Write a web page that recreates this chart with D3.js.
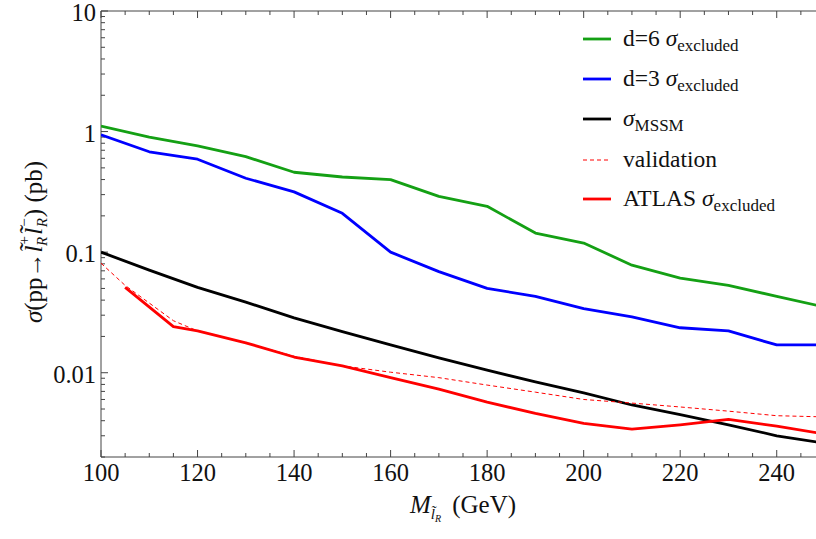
<!DOCTYPE html>
<html><head><meta charset="utf-8">
<script src="https://d3js.org/d3.v7.min.js"></script>
<style>body{margin:0;background:#fff}svg{display:block}text{font-family:"Liberation Serif","Times New Roman",serif;fill:#111}</style>
</head><body>
<svg id="c" width="816" height="539"></svg>
<script>
const masses = [100,110,120,130,140,150,160,170,180,190,200,210,220,230,240,250];
const d6 = [1.11,0.90,0.76,0.62,0.46,0.42,0.40,0.29,0.24,0.144,0.119,0.078,0.061,0.053,0.043,0.035];
const d3v = [0.94,0.68,0.59,0.41,0.316,0.21,0.10,0.069,0.050,0.043,0.034,0.029,0.0236,0.0222,0.017,0.017];
const mssm = [0.100,0.071,0.051,0.0385,0.0285,0.0219,0.0170,0.0133,0.0105,0.0084,0.0068,0.0054,0.0045,0.0037,0.0030,0.0026];
const validationM = [100,105,115,120,130,140,150,160,170,180,190,200,210,220,230,240,250];
const validation = [0.081,0.053,0.027,0.0222,0.0177,0.0137,0.0114,0.0101,0.0091,0.0079,0.0069,0.0060,0.0056,0.0052,0.0048,0.0044,0.0043];
const atlasM = [105,115,120,130,140,150,160,170,180,190,200,210,220,230,240,250];
const atlas = [0.051,0.0241,0.0222,0.0177,0.0135,0.0114,0.0091,0.0073,0.0057,0.0046,0.0038,0.0034,0.0037,0.0041,0.0036,0.0031];
const xMajor = [100,120,140,160,180,200,220,240];
const yMajor = [0.01,0.1,1,10];
const yMajorLabels = ["0.01","0.1","1","10"];

const svg = d3.select("#c");
const L = 101, T = 11, B = 457, R = 825;
const x = d3.scaleLinear().domain([100,250]).range([L,R]);
const y = d3.scaleLog().domain([0.002,10]).range([B,T]);

const ax = svg.append("g").attr("stroke","#444").attr("stroke-width",1);
ax.append("line").attr("x1",L).attr("x2",R).attr("y1",B).attr("y2",B);
ax.append("line").attr("x1",L).attr("x2",R).attr("y1",T).attr("y2",T);
ax.append("line").attr("x1",L).attr("x2",L).attr("y1",T).attr("y2",B);

// x ticks
const xMinor = d3.range(100,251,5);
xMinor.forEach(v=>{
  const maj = xMajor.includes(v);
  const len = maj?7:4;
  ax.append("line").attr("x1",x(v)).attr("x2",x(v)).attr("y1",B).attr("y2",B-len);
  ax.append("line").attr("x1",x(v)).attr("x2",x(v)).attr("y1",T).attr("y2",T+len);
});
xMajor.forEach(v=>{
  svg.append("text").attr("x",x(v)).attr("y",481).attr("text-anchor","middle").attr("font-size",24.5).text(v);
});
// y ticks
const yMinor = [];
[0.001,0.01,0.1,1].forEach(dec=>{for(let k=2;k<=9;k++){const v=dec*k; if(v>=0.002 && v<=10) yMinor.push(v);}});
yMinor.forEach(v=>{
  ax.append("line").attr("x1",L).attr("x2",L+4).attr("y1",y(v)).attr("y2",y(v));
});
yMajor.forEach((v,i)=>{
  ax.append("line").attr("x1",L).attr("x2",L+7).attr("y1",y(v)).attr("y2",y(v));
  svg.append("text").attr("x",L-5).attr("y",y(v)).attr("dy","0.42em").attr("text-anchor","end").attr("font-size",24.5).text(yMajorLabels[i]);
});

// clip
svg.append("clipPath").attr("id","pc").append("rect").attr("x",L).attr("y",T).attr("width",R-L).attr("height",B-T);
const g = svg.append("g").attr("clip-path","url(#pc)");
const line = d3.line().x(d=>x(d[0])).y(d=>y(d[1]));
function draw(ms, vs, color, w, dash){
  g.append("path").datum(ms.map((m,i)=>[m,vs[i]])).attr("d",line).attr("fill","none")
   .attr("stroke",color).attr("stroke-width",w).attr("stroke-linejoin","round")
   .attr("stroke-dasharray",dash||null);
}
const GREEN="#14a014", BLUE="#0000ff", RED="#ff0000";
draw(masses,d6,GREEN,2.8);
draw(masses,d3v,BLUE,2.8);
draw(masses,mssm,"#000",2.8);
draw(validationM,validation,RED,1,"4,3");
draw(atlasM,atlas,RED,2.8);

// legend
const legend = [
  {c:GREEN,w:2.8,d:null,main:"d=6 ",sub:"excluded",sig:true},
  {c:BLUE,w:2.8,d:null,main:"d=3 ",sub:"excluded",sig:true},
  {c:"#000",w:2.8,d:null,main:"",sub:"MSSM",sig:true},
  {c:RED,w:1,d:"4,3",main:"validation",sub:null,sig:false},
  {c:RED,w:2.8,d:null,main:"ATLAS ",sub:"excluded",sig:true}
];
const rowY = [39,79,119,160,199];
legend.forEach((e,i)=>{
  svg.append("line").attr("x1",583).attr("x2",611).attr("y1",rowY[i]).attr("y2",rowY[i])
    .attr("stroke",e.c).attr("stroke-width",e.w).attr("stroke-dasharray",e.d);
  const t = svg.append("text").attr("x",623).attr("y",rowY[i]+7).attr("font-size",23.5);
  if(e.main) t.append("tspan").text(e.main);
  if(e.sig) t.append("tspan").attr("font-style","italic").text("σ");
  if(e.sub) t.append("tspan").attr("font-size",17).attr("dy",5).text(e.sub);
});

// x label
const xl = svg.append("text").attr("x",463).attr("y",513).attr("text-anchor","middle").attr("font-size",25);
xl.append("tspan").attr("font-style","italic").text("M");
xl.append("tspan").attr("font-style","italic").attr("font-size",15).attr("dy",6).text("l\u0303");
xl.append("tspan").attr("font-style","italic").attr("font-size",10).attr("dy",3).text("R");
xl.append("tspan").attr("dy",-9).text("\u2009 (GeV)");

// y label
const yl = svg.append("text").attr("transform","translate(42,242) rotate(-90)").attr("text-anchor","middle").attr("font-size",25);
yl.append("tspan").attr("font-style","italic").text("σ");
yl.append("tspan").text("(pp→");
yl.append("tspan").attr("font-style","italic").text("l\u0303");
yl.append("tspan").attr("font-size",15).attr("dx",1).attr("dy",-13).text("+");
yl.append("tspan").attr("font-size",15).attr("font-style","italic").attr("dx",-10).attr("dy",18).text("R");
yl.append("tspan").attr("font-style","italic").attr("dy",-5).attr("dx",2).text("l\u0303");
yl.append("tspan").attr("font-size",15).attr("dx",1).attr("dy",-13).text("−");
yl.append("tspan").attr("font-size",15).attr("font-style","italic").attr("dx",-9).attr("dy",18).text("R");
yl.append("tspan").attr("dy",-5).attr("dx",1).text(") (pb)");
</script>
</body></html>
